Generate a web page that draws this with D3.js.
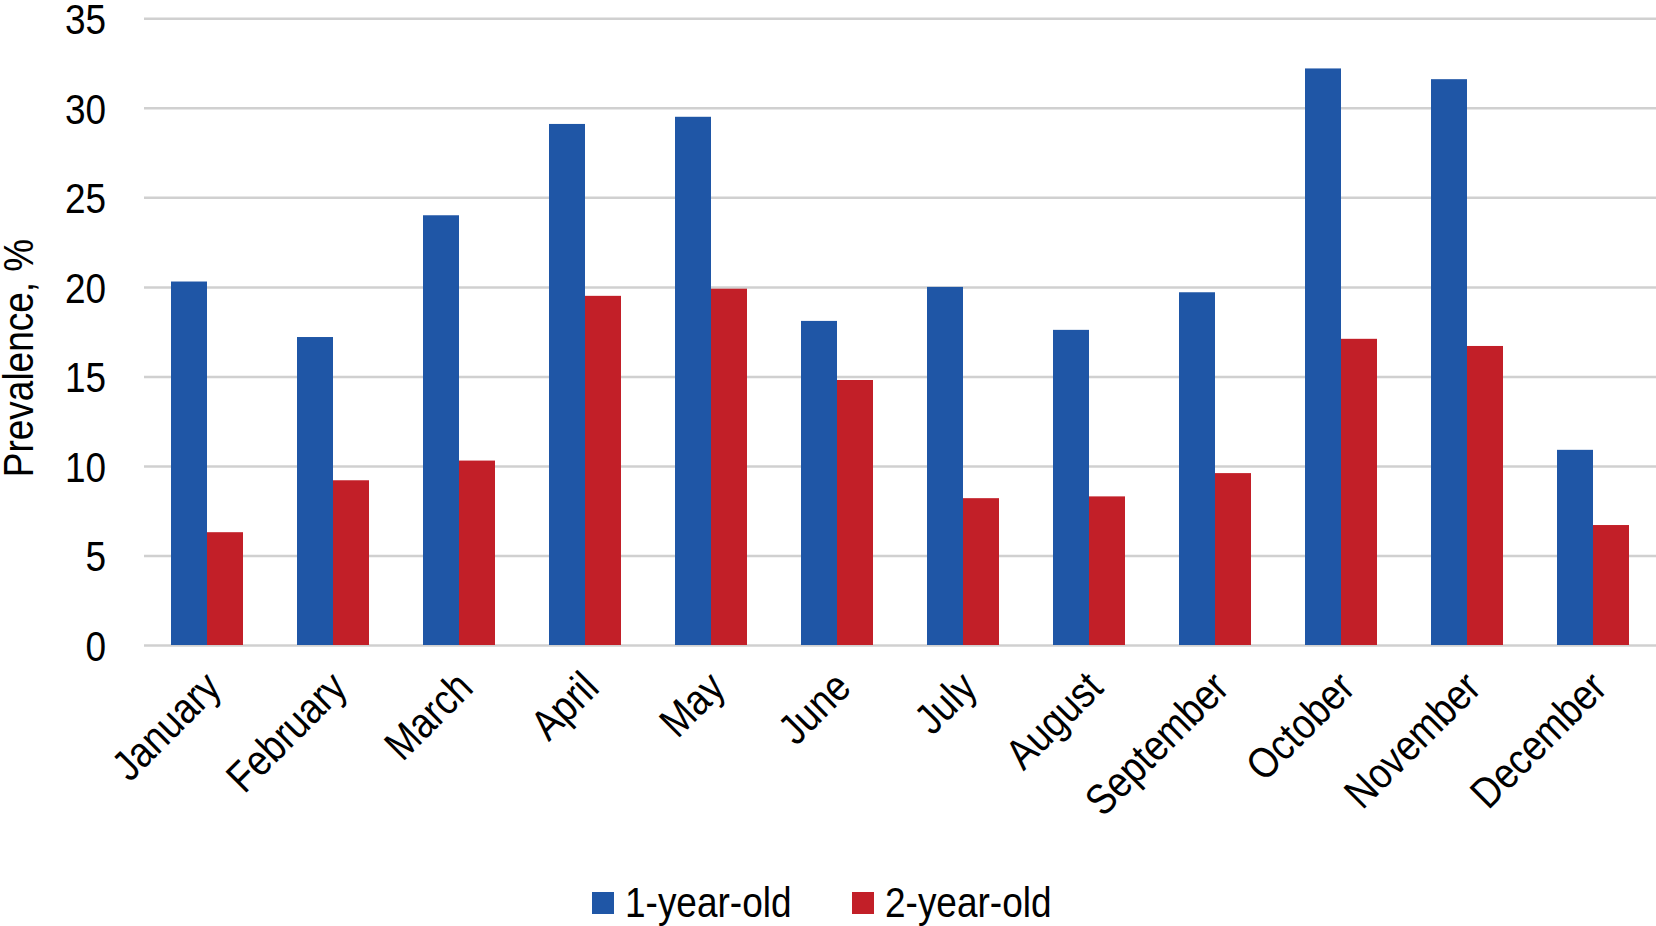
<!DOCTYPE html>
<html>
<head>
<meta charset="utf-8">
<script src="https://cdn.jsdelivr.net/npm/d3@7"></script>
<style>
  html, body { margin: 0; padding: 0; background: #fff; }
  svg text { font-family: "Liberation Sans Narrow", "Arial Narrow", "Liberation Sans", Arial, sans-serif; fill: #000; }
</style>
</head>
<body>
<svg id="chart" width="1656" height="926"></svg>
<script>
const months = ["January","February","March","April","May","June","July","August","September","October","November","December"];
const seriesNames = ["1-year-old", "2-year-old"];
const oneYearOld = [20.3, 17.2, 24.0, 29.1, 29.5, 18.1, 20.0, 17.6, 19.7, 32.2, 31.6, 10.9];
const twoYearOld = [6.3, 9.2, 10.3, 19.5, 19.9, 14.8, 8.2, 8.3, 9.6, 17.1, 16.7, 6.7];
const yTicks = [0, 5, 10, 15, 20, 25, 30, 35];
const colors = ["#1f56a6", "#c21f28"];
const yTitle = "Prevalence, %";

const svg = d3.select("#chart");
const plotLeft = 144, plotRight = 1656, plotTop = 18.3, plotBottom = 645;
const fs = 43;

const x0 = d3.scaleBand().domain(months).range([plotLeft, plotRight]).padding(0);
const x1 = d3.scaleBand().domain(seriesNames).range([27, 99]);
const y = d3.scaleLinear().domain([0, 35]).range([plotBottom, plotTop]);

// gridlines
const yAxis = d3.axisLeft(y).tickValues(yTicks).tickSize(-(plotRight - plotLeft)).tickPadding(38).tickFormat(d3.format("d"));
const gy = svg.append("g").attr("transform", `translate(${plotLeft},0)`).call(yAxis);
gy.select(".domain").remove();
gy.selectAll(".tick line").attr("stroke", "#d0d0d0").attr("stroke-width", 2.5);
gy.selectAll(".tick text").attr("font-size", fs).attr("dy", "0.36em");

// bars
const data = months.map((m, i) => ({ month: m, values: [oneYearOld[i], twoYearOld[i]] }));
const groups = svg.append("g").selectAll("g").data(data).join("g")
  .attr("transform", d => `translate(${x0(d.month)},0)`);
groups.selectAll("rect").data(d => d.values.map((v, j) => ({ key: seriesNames[j], v, j })))
  .join("rect")
  .attr("x", d => x1(d.key))
  .attr("width", x1.bandwidth())
  .attr("y", d => y(d.v))
  .attr("height", d => y(0) - y(d.v))
  .attr("fill", d => colors[d.j]);

// x labels
const xAxis = d3.axisBottom(x0).tickSize(0).tickPadding(0);
const gx = svg.append("g").attr("transform", `translate(0,${plotBottom})`).call(xAxis);
gx.select(".domain").remove();
gx.selectAll(".tick text")
  .attr("font-size", fs)
  .attr("text-anchor", "end")
  .attr("dy", 0)
  .attr("transform", "translate(16,45) rotate(-45)");

// y title
svg.append("text")
  .attr("transform", `translate(33,358) rotate(-90)`)
  .attr("text-anchor", "middle")
  .attr("font-size", fs)
  .text(yTitle);

// legend
const legendX = [592, 852];
const lg = svg.append("g").selectAll("g").data(seriesNames).join("g")
  .attr("transform", (d, i) => `translate(${legendX[i]},892)`);
lg.append("rect").attr("width", 22).attr("height", 22).attr("fill", (d, i) => colors[i]);
lg.append("text").attr("x", 33).attr("y", 25).attr("font-size", fs).text(d => d);

// emulate the condensed face of the reference
svg.selectAll("text").each(function () {
  const w = this.getComputedTextLength();
  this.setAttribute("textLength", (w * 0.86).toFixed(1));
  this.setAttribute("lengthAdjust", "spacingAndGlyphs");
});
</script>
</body>
</html>
